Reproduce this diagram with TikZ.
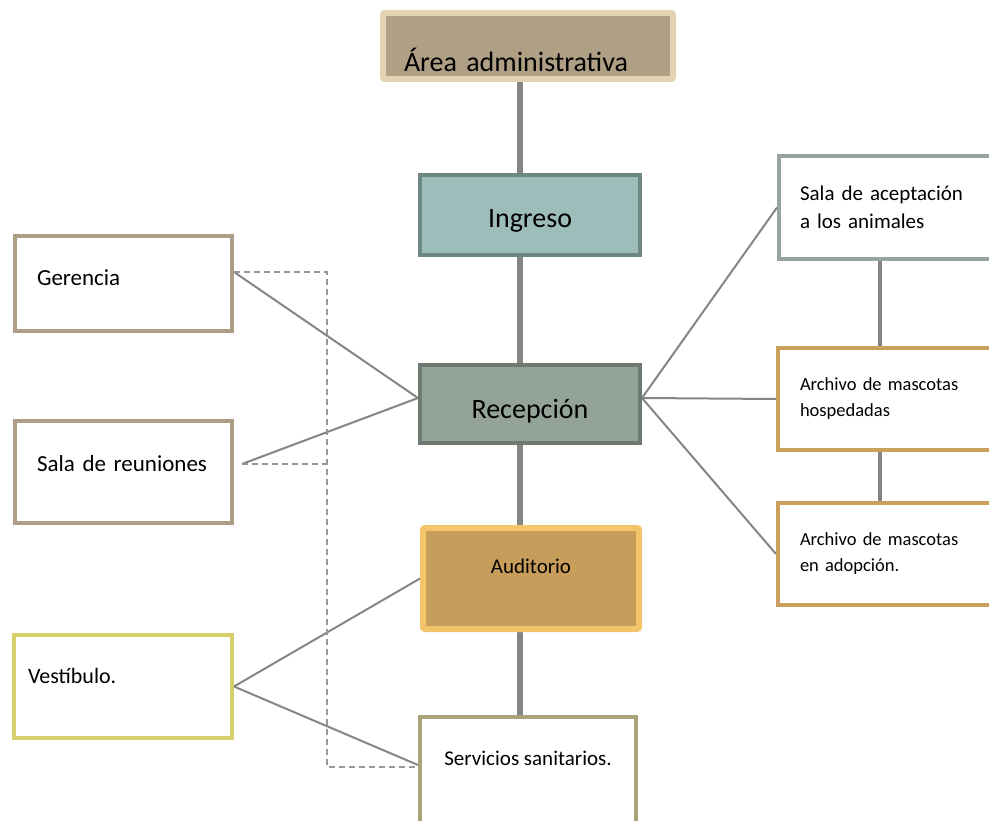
\documentclass[tikz,border=0pt]{standalone}
\usepackage{fontspec}
\setmainfont{Carlito}
\usetikzlibrary{positioning,calc,backgrounds}
\definecolor{areafill}{HTML}{AE9F85}
\definecolor{areaedge}{HTML}{E4D3B2}
\definecolor{ingfill}{HTML}{9DBDBA}
\definecolor{ingedge}{HTML}{6E8784}
\definecolor{recfill}{HTML}{94A398}
\definecolor{recedge}{HTML}{6C7A72}
\definecolor{audfill}{HTML}{C79D5B}
\definecolor{audedge}{HTML}{F3C46A}
\definecolor{tanedge}{HTML}{AD9E85}
\definecolor{oliveedge}{HTML}{A9A37B}
\definecolor{yellowedge}{HTML}{D7CF6C}
\definecolor{sageedge}{HTML}{96A49B}
\definecolor{orangeedge}{HTML}{CB9F5E}
\definecolor{linegray}{HTML}{858585}
\newcommand{\bigtxt}{\fontsize{28}{34}\selectfont}
\newcommand{\midtxt}{\fontsize{21}{28}\selectfont}

\begin{document}
\begin{tikzpicture}[x=1pt,y=-1pt,
  box/.style={rectangle,draw,line width=4pt,fill=white,inner sep=0pt},
  hub/.style={box,align=center},
  room/.style={box,align=left,inner xsep=22pt,font=\fontsize{23}{28}\selectfont},
  spine/.style={line width=6pt,draw=linegray},
  branch/.style={line width=4pt,draw=linegray},
  link/.style={line width=2pt,draw=linegray},
  dlink/.style={line width=1.5pt,draw=linegray!85,dash pattern=on 6pt off 4pt}
]
\useasboundingbox (0,0) rectangle (989,821);
\clip (0,0) rectangle (989,821);

%--- central column ---
\node[hub,fill=areafill,draw=areaedge,line width=6pt,rounded corners=2pt,
  minimum width=290pt,minimum height=66pt,inner xsep=21pt,text width=248pt,
  align=left,text height=55pt,text depth=3pt,font=\bigtxt] (area) at (528,46) {Área administrativa};
\node[hub,fill=ingfill,draw=ingedge,minimum width=220pt,minimum height=80pt,
  text height=30pt,text depth=4pt,font=\bigtxt] (ingreso) at (530,215) {Ingreso};
\node[hub,fill=recfill,draw=recedge,minimum width=220pt,minimum height=78pt,
  text height=32pt,text depth=4pt,font=\bigtxt] (recep) at (530,404) {Recepción};
\node[hub,fill=audfill,draw=audedge,line width=6pt,rounded corners=2pt,
  minimum width=216pt,minimum height=101pt,text height=14pt,text depth=25pt,
  font=\midtxt] (aud) at (531,578.5) {Auditorio};
\node[hub,draw=oliveedge,minimum width=216pt,minimum height=106pt,
  text height=15pt,text depth=25pt,font=\midtxt] (serv) at (528,770) {Servicios sanitarios.};

%--- left rooms ---
\node[room,draw=tanedge,minimum width=217pt,minimum height=95pt,text width=173pt,
  text height=17pt,text depth=12pt] (ger) at (123.5,283.5) {Gerencia};
\node[room,draw=tanedge,minimum width=217pt,minimum height=102pt,text width=173pt,
  text height=17pt,text depth=19pt] (reu) at (123.5,472) {Sala de reuniones};
\node[room,draw=yellowedge,minimum width=218pt,minimum height=103pt,inner xsep=14pt,
  text width=190pt,text height=16pt,text depth=23pt,font=\fontsize{22}{28}\selectfont]
  (vest) at (123,686.5) {Vestíbulo.};

%--- right rooms ---
\node[room,draw=sageedge,minimum width=231pt,minimum height=103pt,inner xsep=21pt,
  text width=189pt,font=\midtxt] (acept) at (894.5,207.5) {Sala de aceptación\\a los animales};
\node[room,draw=orangeedge,minimum width=232pt,minimum height=102pt,inner xsep=22pt,
  text width=188pt,font=\fontsize{18.5}{26}\selectfont] (hosp) at (894,399) {Archivo de mascotas\\hospedadas};
\node[room,draw=orangeedge,minimum width=232pt,minimum height=102pt,inner xsep=22pt,
  text width=188pt,font=\fontsize{18.5}{26}\selectfont] (adop) at (894,554) {Archivo de mascotas\\en adopción.};

%--- connectors ---
\begin{scope}[on background layer]
  \coordinate (mid) at (520,0);
  \coordinate (side) at (880,0);
  \coordinate (dash) at (327,0);
  \coordinate (recW) at ([yshift=6pt]recep.west);
  \coordinate (recE) at ([yshift=6pt]recep.east);
  \coordinate (gerE) at ([yshift=11.5pt]ger.east);
  \coordinate (reuE) at ([shift={(8pt,8pt)}]reu.east);
  \coordinate (servW) at ([yshift=5pt]serv.west);
  \coordinate (servD) at ([yshift=3pt]serv.west);
  % main spine
  \draw[spine] (area.south -| mid) -- (ingreso.north -| mid);
  \draw[spine] (ingreso.south -| mid) -- (recep.north -| mid);
  \draw[spine] (recep.south -| mid) -- (aud.north -| mid);
  \draw[spine] (aud.south -| mid) -- (serv.north -| mid);
  % right column
  \draw[branch] (acept.south -| side) -- (hosp.north -| side);
  \draw[branch] (hosp.south -| side) -- (adop.north -| side);
  % thin links
  \draw[link] (gerE) -- (recW);
  \draw[link] (reuE) -- (recW);
  \draw[link] (recE) -- (acept.west);
  \draw[link] (recE) -- (hosp.west);
  \draw[link] (recE) -- (adop.west);
  \draw[link] (vest.east) -- (aud.west);
  \draw[link] (vest.east) -- (servW);
  % dashed return
  \draw[dlink] (gerE) -- (gerE -| dash) -- (servD -| dash) -- (servD);
  \draw[dlink] (reuE) -- (reuE -| dash);
\end{scope}
\end{tikzpicture}
\end{document}
